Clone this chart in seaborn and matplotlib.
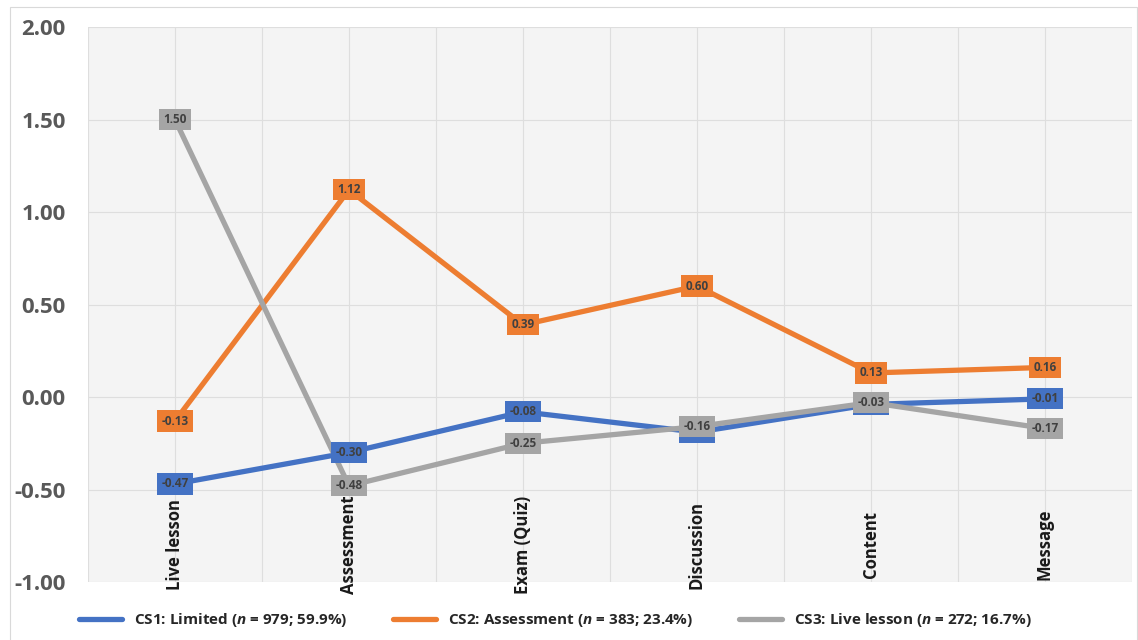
import pandas as pd
import matplotlib.pyplot as plt
import matplotlib.patches as mpatches
import seaborn as sns

# dados
categorias = ['Live lesson', 'Assessment', 'Exam (Quiz)', 'Discussion', 'Content', 'Message']
cs1_valores = [-0.47, -0.30, -0.08, -0.19, -0.04, -0.01]
cs2_valores = [-0.13, 1.12, 0.39, 0.60, 0.13, 0.16]
cs3_valores = [1.50, -0.48, -0.25, -0.16, -0.03, -0.17]
series = ['CS1: Limited ($n$ = 979; 59.9%)',
          'CS2: Assessment ($n$ = 383; 23.4%)',
          'CS3: Live lesson ($n$ = 272; 16.7%)']
y_ticks = [-1.0, -0.5, 0.0, 0.5, 1.0, 1.5, 2.0]

cores = ['#4472C4', '#ED7D31', '#A5A5A5']

df = pd.DataFrame({
    'categoria': categorias * 3,
    'pos': list(range(len(categorias))) * 3,
    'valor': cs1_valores + cs2_valores + cs3_valores,
    'serie': [series[0]] * 6 + [series[1]] * 6 + [series[2]] * 6,
})

sns.set_theme(style='white')
plt.rcParams['font.family'] = ['Open Sans', 'DejaVu Sans']
plt.rcParams['mathtext.fontset'] = 'custom'
plt.rcParams['mathtext.it'] = 'Open Sans:italic:bold'
plt.rcParams['mathtext.rm'] = 'Open Sans:bold'

fig = plt.figure(figsize=(11.38, 6.4), dpi=100)
ax = fig.add_axes([0.0773, 0.0906, 0.9174, 0.8672])
ax.set_facecolor('#f4f4f4')

# moldura clara do gráfico
fig.patches.append(mpatches.Rectangle((10 / 1138, -0.05), 1127 / 1138, 0.05 + 633 / 640,
                                      transform=fig.transFigure, fill=False,
                                      ec='#d9d9d9', lw=0.8, zorder=0))

sns.lineplot(data=df, x='pos', y='valor', hue='serie', palette=cores,
             linewidth=3.8, ax=ax, legend=True, sort=False)

# rótulos de dados em caixas coloridas
for s, cor in zip(series, cores):
    sub = df[df['serie'] == s]
    for x, v in zip(sub['pos'], sub['valor']):
        ax.text(x, v, f'{v:.2f}', ha='center', va='center', fontsize=8.5,
                fontweight='bold', color='#404040', zorder=5,
                bbox=dict(boxstyle='square,pad=0.35', fc=cor, ec='none'))

ax.set_xlim(-0.5, 5.5)
ax.set_ylim(-1.0, 2.0)
ax.set_yticks(y_ticks)
ax.set_yticklabels([f'{t:.2f}' for t in y_ticks], fontsize=16,
                   fontweight='bold', color='#595959')
ax.tick_params(axis='y', pad=16, length=0)

ax.set_xticks(range(len(categorias)))
ax.set_xticklabels(categorias, rotation=90, va='center', fontsize=12,
                   fontweight='bold', color='#1a1a1a')
ax.tick_params(axis='x', pad=-27, length=0)

# grade: horizontais a cada 0.5, verticais a cada meia categoria
ax.set_xticks([i - 0.5 for i in range(7)], minor=True)
ax.grid(True, which='both', axis='x', color='#dedede', lw=0.8)
ax.grid(True, which='major', axis='y', color='#dedede', lw=0.8)
ax.set_axisbelow(True)
for sp in ax.spines.values():
    sp.set_visible(False)
ax.set_xlabel('')
ax.set_ylabel('')

h, l = ax.get_legend_handles_labels()
ax.get_legend().remove()
leg = fig.legend(h, l, loc='center', bbox_to_anchor=(0.488, 0.031), ncol=3,
                 frameon=False, handlelength=2.8, columnspacing=3.0,
                 handletextpad=0.8, prop={'weight': 'bold', 'size': 11})
for t in leg.get_texts():
    t.set_color('#262626')
for line in leg.get_lines():
    line.set_linewidth(3.8)

plt.savefig('out.png', dpi=100)
plt.close()
